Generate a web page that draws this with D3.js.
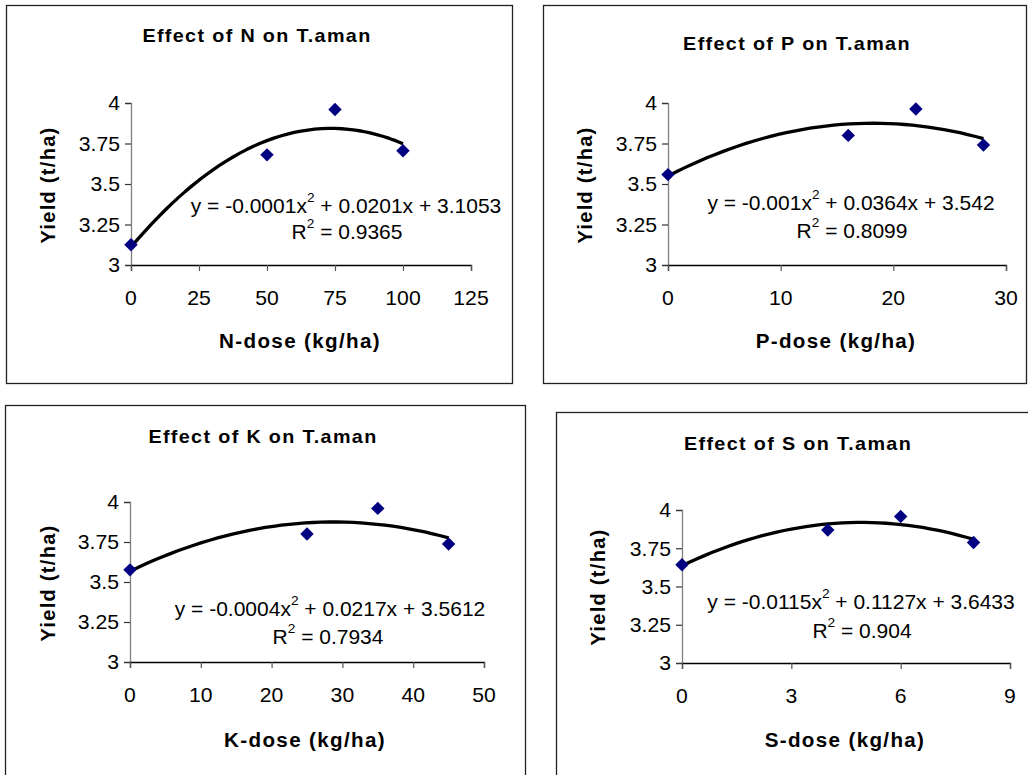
<!DOCTYPE html>
<html><head><meta charset="utf-8">
<script src="https://cdn.jsdelivr.net/npm/d3@7"></script>
<style>body{margin:0;background:#fff} svg text{font-family:"Liberation Sans",Arial,sans-serif;fill:#000}</style>
</head><body><svg id="c" width="1028" height="775"></svg>
<script>
// ---- data ----
const nDose=[0,50,75,100],  nYield=[3.125,3.68,3.96,3.705];
const pDose=[0,16,22,28],   pYield=[3.558,3.80,3.963,3.74];
const kDose=[0,25,35,45],   kYield=[3.576,3.80,3.96,3.737];
const sDose=[0,4,6,8],      sYield=[3.642,3.869,3.958,3.788];
const nTicks=[0,25,50,75,100,125];
const pTicks=[0,10,20,30];
const kTicks=[0,10,20,30,40,50];
const sTicks=[0,3,6,9];
const yTicks=[3,3.25,3.5,3.75,4];
const titles=["Effect of N on T.aman","Effect of P on T.aman","Effect of K on T.aman","Effect of S on T.aman"];
const xLabels=["N-dose (kg/ha)","P-dose (kg/ha)","K-dose (kg/ha)","S-dose (kg/ha)"];
const yLabel="Yield (t/ha)";
const eqHead=["y = -0.0001x","y = -0.001x","y = -0.0004x","y = -0.0115x"];
const eqTail=[" + 0.0201x + 3.1053"," + 0.0364x + 3.542"," + 0.0217x + 3.5612"," + 0.1127x + 3.6433"];
const r2Vals=["0.9365","0.8099","0.7934","0.904"];

// ---- layout ----
const layout=[
 {frame:[6,5,506,378], plot:{l:131,r:471,t:103,b:265}, title:[257,35], ylab:[48,185], xlab:[300,341], eq:[346,205], r2:[347,231]},
 {frame:[543,5,483,378], plot:{l:668,r:1006,t:103,b:265}, title:[797,43], ylab:[585,185], xlab:[836,341], eq:[851,202], r2:[852,230]},
 {frame:[5,405,520,390], plot:{l:130,r:484,t:502,b:662}, title:[263,436], ylab:[48,583], xlab:[305,740], eq:[330,608], r2:[328,636]},
 {frame:[556,412,480,390], plot:{l:682,r:1010,t:510,b:663}, title:[798,443], ylab:[598,587], xlab:[845,740], eq:[861,601], r2:[862,630]}
];
const series=[[nDose,nYield,nTicks],[pDose,pYield,pTicks],[kDose,kYield,kTicks],[sDose,sYield,sTicks]];

function fitQuad(xs,ys){
  const S=k=>d3.sum(xs,x=>Math.pow(x,k));
  const T=k=>d3.sum(xs.map((x,i)=>Math.pow(x,k)*ys[i]));
  const A=[[S(0),S(1),S(2),T(0)],[S(1),S(2),S(3),T(1)],[S(2),S(3),S(4),T(2)]];
  for(let i=0;i<3;i++){for(let j=i+1;j<3;j++){const f=A[j][i]/A[i][i];for(let k=i;k<4;k++)A[j][k]-=f*A[i][k];}}
  const c=[0,0,0];
  for(let i=2;i>=0;i--){let s=A[i][3];for(let k=i+1;k<3;k++)s-=A[i][k]*c[k];c[i]=s/A[i][i];}
  return x=>c[0]+c[1]*x+c[2]*x*x;
}

const svg=d3.select("#c");
const SX=1.06, FS=20;

function txt(g,x,y,s,opt={}){
  const t=g.append("text").attr("transform",`translate(${x},${y})${opt.rot?" rotate(-90)":""} scale(${opt.sx||SX},1)`)
    .attr("text-anchor",opt.anchor||"middle").attr("dominant-baseline","central")
    .style("font-size",(opt.fs||FS)+"px").style("font-weight",opt.bold?"bold":"normal")
    .style("letter-spacing",(opt.ls||0)+"px").text(s);
  return t;
}

layout.forEach((L,i)=>{
  const [xs,ys,xt]=series[i];
  const g=svg.append("g");
  g.append("rect").attr("x",L.frame[0]+0.5).attr("y",L.frame[1]+0.5).attr("width",L.frame[2]).attr("height",L.frame[3])
    .attr("fill","none").attr("stroke","#222").attr("stroke-width",1.3);
  const x=d3.scaleLinear().domain([xt[0],xt[xt.length-1]]).range([L.plot.l,L.plot.r]);
  const y=d3.scaleLinear().domain([3,4]).range([L.plot.b,L.plot.t]);

  // y axis
  const ya=g.append("g").attr("transform",`translate(${L.plot.l},0)`)
    .call(d3.axisLeft(y).tickValues(yTicks).tickSize(6).tickFormat(d=>String(d)));
  ya.select(".domain").attr("stroke","#808080").attr("stroke-width",1.3);
  ya.selectAll(".tick line").attr("stroke","#333").attr("stroke-width",1.2);
  ya.selectAll(".tick text").remove();
  yTicks.forEach(v=>txt(g,L.plot.l-11,y(v),String(v),{anchor:"end"}));

  // x axis
  const xa=g.append("g").attr("transform",`translate(0,${L.plot.b})`)
    .call(d3.axisBottom(x).tickValues(xt).tickSize(6).tickFormat(d=>String(d)));
  xa.select(".domain").attr("stroke","#000").attr("stroke-width",1.3);
  xa.selectAll(".tick line").attr("stroke","#555").attr("stroke-width",1.2);
  xa.selectAll(".tick text").remove();
  xt.forEach(v=>txt(g,x(v),L.plot.b+33,String(v)));

  // trendline
  const f=fitQuad(xs,ys);
  const xmin=d3.min(xs), xmax=d3.max(xs);
  const pts=d3.range(0,41).map(k=>xmin+(xmax-xmin)*k/40);
  g.append("path").attr("d",d3.line().x(d=>x(d)).y(d=>y(f(d)))(pts))
    .attr("fill","none").attr("stroke","#000").attr("stroke-width",3.3).attr("stroke-linejoin","round");

  // points
  g.selectAll(".pt").data(xs.map((d,j)=>[d,ys[j]])).join("path")
    .attr("transform",d=>`translate(${x(d[0])},${y(d[1])}) rotate(45)`)
    .attr("d",d3.symbol(d3.symbolSquare,90)).attr("fill","#000080");

  // texts
  txt(g,L.title[0],L.title[1],titles[i],{bold:true,fs:19,ls:1.3,sx:1.04});
  txt(g,L.xlab[0],L.xlab[1],xLabels[i],{bold:true,fs:20,ls:1.3,sx:1.03});
  txt(g,L.ylab[0],L.ylab[1],yLabel,{bold:true,fs:20,ls:1.3,rot:true,sx:1.0});
  const e=txt(g,L.eq[0],L.eq[1],"",{sx:1.05});
  e.append("tspan").text(eqHead[i]);
  e.append("tspan").attr("dy",-8).style("font-size","13px").text("2");
  e.append("tspan").attr("dy",8).text(eqTail[i]);
  const r=txt(g,L.r2[0],L.r2[1],"",{sx:1.05});
  r.append("tspan").text("R");
  r.append("tspan").attr("dy",-8).style("font-size","13px").text("2");
  r.append("tspan").attr("dy",8).text(" = "+r2Vals[i]);
});
</script></body></html>
